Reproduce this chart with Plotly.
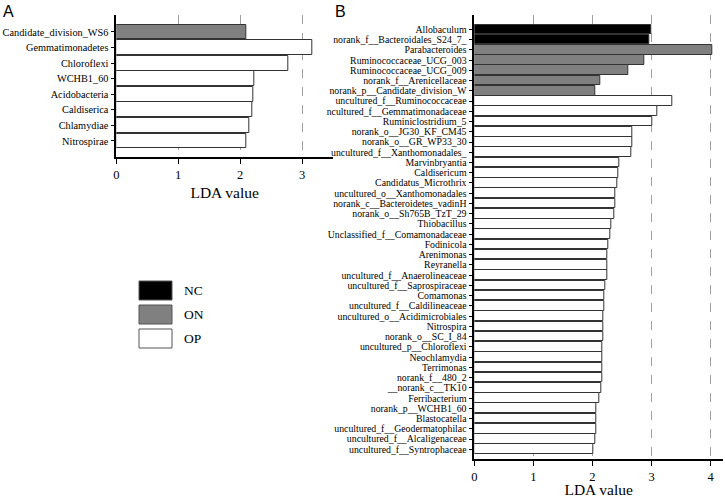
import plotly.graph_objects as go

W, H = 725, 498

# ---------------- data ----------------
groups = ["NC", "ON", "OP"]
group_colors = {"NC": "#000000", "ON": "#808080", "OP": "#ffffff"}

a_names = ["Candidate_division_WS6", "Gemmatimonadetes", "Chloroflexi", "WCHB1_60",
           "Acidobacteria", "Caldiserica", "Chlamydiae", "Nitrospirae"]
a_values = [2.10, 3.17, 2.77, 2.23, 2.21, 2.19, 2.14, 2.10]
a_groups = ["ON", "OP", "OP", "OP", "OP", "OP", "OP", "OP"]

b_names = ["Allobaculum", "norank_f__Bacteroidales_S24_7_", "Parabacteroides",
           "Ruminococcaceae_UCG_003", "Ruminococcaceae_UCG_009", "norank_f__Arenicellaceae",
           "norank_p__Candidate_division_W", "uncultured_f__Ruminococcaceae",
           "ncultured_f__Gemmatimonadaceae", "Ruminiclostridium_5", "norank_o__JG30_KF_CM45",
           "norank_o__GR_WP33_30", "uncultured_f__Xanthomonadales_", "Marvinbryantia",
           "Caldisericum", "Candidatus_Microthrix", "uncultured_o__Xanthomonadales",
           "norank_c__Bacteroidetes_vadinH", "norank_o__Sh765B_TzT_29", "Thiobacillus",
           "Unclassified_f__Comamonadaceae", "Fodinicola", "Arenimonas", "Reyranella",
           "uncultured_f__Anaerolineaceae", "uncultured_f__Saprospiraceae", "Comamonas",
           "uncultured_f__Caldilineaceae", "uncultured_o__Acidimicrobiales", "Nitrospira",
           "norank_o__SC_I_84", "uncultured_p__Chloroflexi", "Neochlamydia", "Terrimonas",
           "norank_f__480_2", "__norank_c__TK10", "Ferribacterium", "norank_p__WCHB1_60",
           "Blastocatella", "uncultured_f__Geodermatophilac", "uncultured_f__Alcaligenaceae",
           "uncultured_f__Syntrophaceae"]
b_values = [3.00, 2.96, 4.03, 2.87, 2.60, 2.13, 2.05, 3.35, 3.09, 3.02, 2.67, 2.67, 2.65,
            2.45, 2.43, 2.42, 2.38, 2.38, 2.37, 2.32, 2.30, 2.27, 2.25, 2.25, 2.25, 2.21,
            2.20, 2.20, 2.19, 2.19, 2.18, 2.17, 2.17, 2.16, 2.16, 2.15, 2.11, 2.07, 2.07,
            2.06, 2.05, 2.02]
b_groups = ["NC", "NC"] + ["ON"] * 5 + ["OP"] * 35

a_xticks = [0, 1, 2, 3]
b_xticks = [0, 1, 2, 3, 4]
x_title = "LDA value"

SERIF = "Liberation Serif"
SANS = "Liberation Sans"

def px_x(p):
    return p / W

def px_y(p):
    return 1 - p / H

fig = go.Figure()

fig.add_trace(go.Bar(
    x=a_values, y=a_names, orientation="h", width=0.95,
    marker=dict(color=[group_colors[g] for g in a_groups], line=dict(color="#333333", width=1)),
    xaxis="x", yaxis="y", showlegend=False, hoverinfo="x+y"))

fig.add_trace(go.Bar(
    x=b_values, y=b_names, orientation="h", width=0.94,
    marker=dict(color=[group_colors[g] for g in b_groups], line=dict(color="#333333", width=1)),
    xaxis="x2", yaxis="y2", showlegend=False, hoverinfo="x+y"))

common_x = dict(
    automargin=False,
    showline=True, linecolor="black", linewidth=1.6,
    ticks="outside", ticklen=5, tickwidth=1.4, tickcolor="black",
    showgrid=True, gridcolor="#a0a0a0", griddash="dash", gridwidth=1,
    zeroline=False, tickfont=dict(family=SERIF, size=12.5, color="black"),
    title=dict(text=x_title, font=dict(family=SERIF, size=15.5, color="black"), standoff=6),
)
common_y = dict(
    automargin=False,
    type="category", showline=True, linecolor="black", linewidth=1.6,
    ticks="outside", ticklen=4, tickwidth=1.4, tickcolor="black",
    showgrid=False, zeroline=False, tickmode="array",
)

nA = len(a_names)
nB = len(b_names)

fig.update_layout(
    template="none",
    width=W, height=H, autosize=False,
    margin=dict(l=0, r=0, t=0, b=0),
    paper_bgcolor="white", plot_bgcolor="white",
    bargap=0,
    xaxis=dict(domain=[px_x(116.3), px_x(333)], range=[0, 3.5], tickvals=a_xticks,
               anchor="y", **common_x),
    yaxis=dict(domain=[px_y(157), px_y(15)], range=[nA - 1 + 1.03, -1.09],
               categoryorder="array", categoryarray=a_names, anchor="x",
               tickvals=a_names, ticktext=a_names,
               tickfont=dict(family=SERIF, size=10.3, color="black"), **common_y),
    xaxis2=dict(domain=[px_x(474.3), px_x(723)], range=[0, 4.21], tickvals=b_xticks,
                anchor="y2", **common_x),
    yaxis2=dict(domain=[px_y(458.7), px_y(15)], range=[nB - 1 + 0.92, -1.4],
                categoryorder="array", categoryarray=b_names, anchor="x2",
                tickvals=b_names, ticktext=b_names,
                tickfont=dict(family=SERIF, size=9.8, color="black"), **common_y),
)

# panel letters
fig.add_annotation(text="A", x=px_x(1), y=px_y(1), xref="paper", yref="paper",
                   xanchor="left", yanchor="top", showarrow=False,
                   font=dict(family=SANS, size=16, color="black"))
fig.add_annotation(text="B", x=px_x(333), y=px_y(1), xref="paper", yref="paper",
                   xanchor="left", yanchor="top", showarrow=False,
                   font=dict(family=SANS, size=16, color="black"))

# legend (boxes + labels)
box_x0, box_x1 = 139, 172
box_tops = [281, 305, 329]
box_h = 19
for g, top in zip(groups, box_tops):
    fig.add_shape(type="rect", xref="paper", yref="paper",
                  x0=px_x(box_x0), x1=px_x(box_x1), y0=px_y(top + box_h), y1=px_y(top),
                  fillcolor=group_colors[g], line=dict(color="#555555", width=1))
    fig.add_annotation(text=g, x=px_x(182), y=px_y(top + box_h / 2), xref="paper", yref="paper",
                       xanchor="left", yanchor="middle", showarrow=False,
                       font=dict(family=SERIF, size=13.5, color="black"))

fig.write_html("out.html", config={"displayModeBar": False},
               post_script="document.body.style.margin='0';document.body.style.overflow='hidden';")
